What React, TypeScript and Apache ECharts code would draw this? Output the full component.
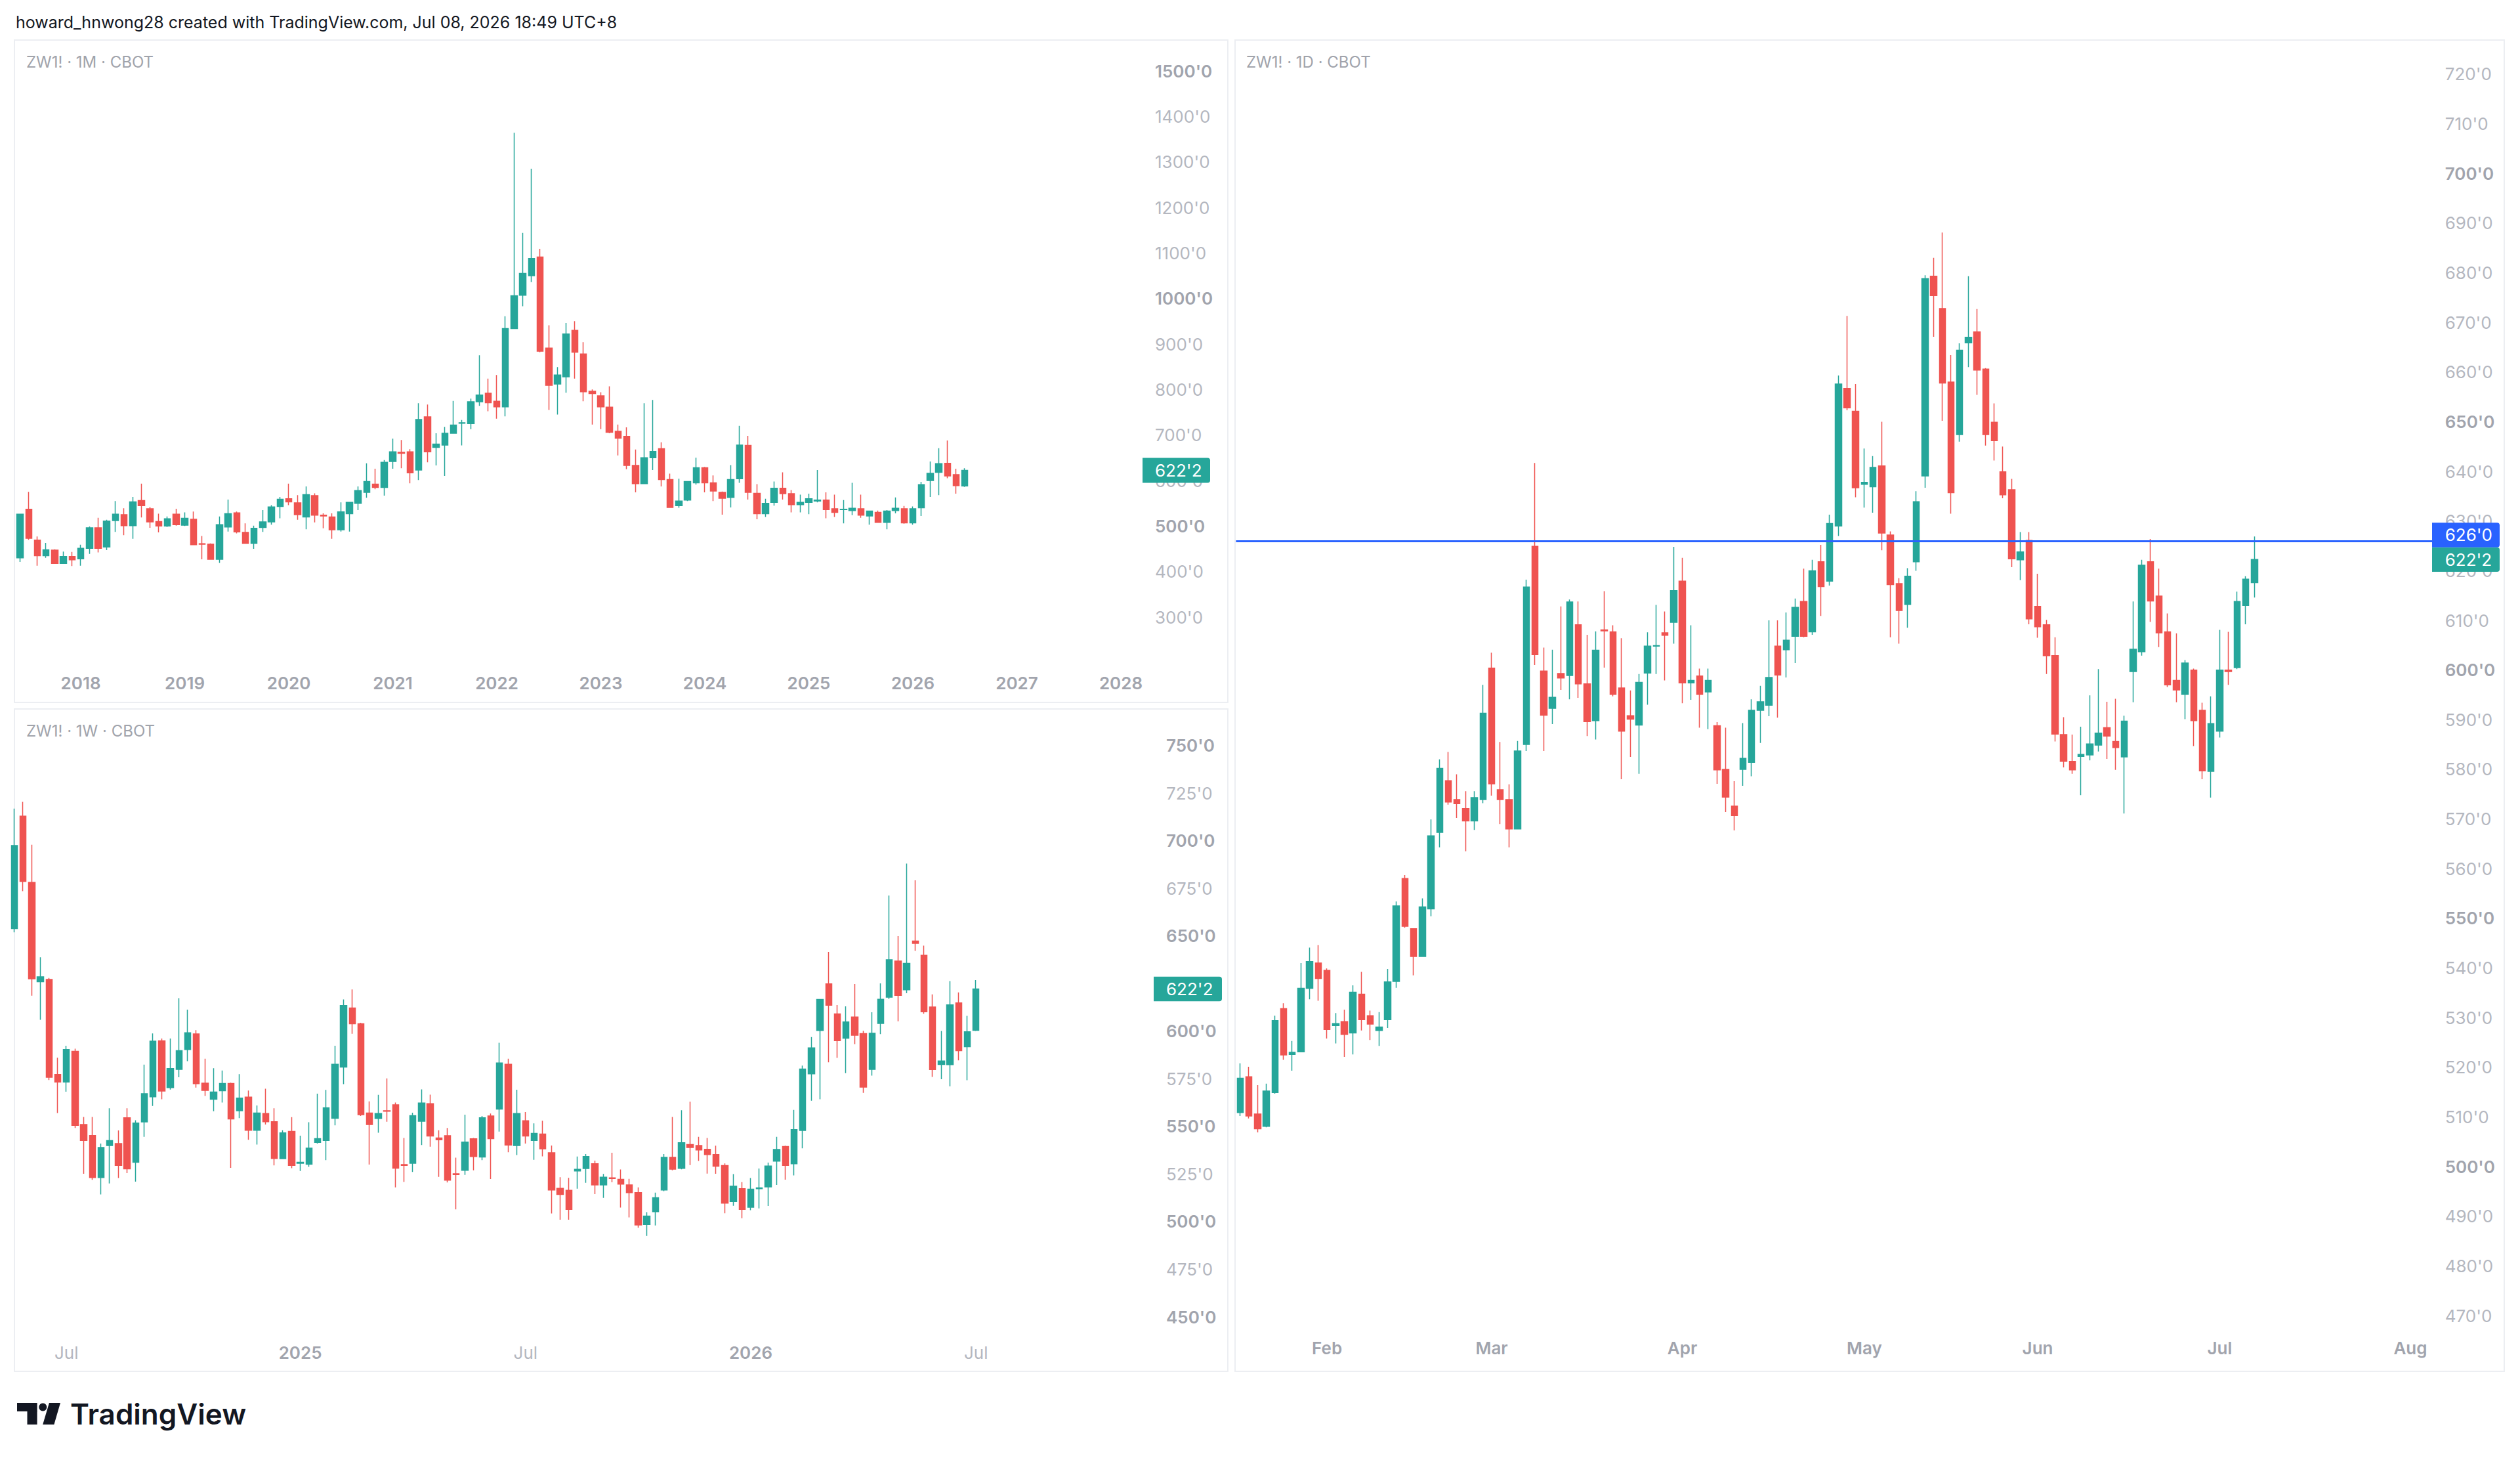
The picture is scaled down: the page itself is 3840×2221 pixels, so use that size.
import React, { useEffect, useRef } from 'react';
import * as echarts from 'echarts';

// ---------- texts ----------
const HEADER = 'howard_hnwong28 created with TradingView.com, Jul 08, 2026 18:49 UTC+8';
const TITLE_M = 'ZW1! · 1M · CBOT';
const TITLE_W = 'ZW1! · 1W · CBOT';
const TITLE_D = 'ZW1! · 1D · CBOT';
const BRAND = 'TradingView';
const MONTH_NAMES = ['Jan', 'Feb', 'Mar', 'Apr', 'May', 'Jun', 'Jul', 'Aug', 'Sep', 'Oct', 'Nov', 'Dec'];

const LAST_PRICE = 622.25;
const LEVEL_PRICE = 626;
// weekly tick label fully covered by the last-price tag in the reference
const weeklyHiddenTicks = [625];

// ---------- monthly (from 2017-06), [open, high, low, close] ----------
const monthlyStart = '2017-06';
const monthlyAhead = 20;
const monthlyOHLC: number[][] = [
  [430, 527, 421, 526], [537, 575, 470, 473], [469, 477, 413, 435], [435, 463, 430, 448],
  [447, 449, 417, 418], [418, 444, 417, 433], [433, 443, 412, 426],
  [428, 459, 413, 451], [451, 499, 439, 496], [496, 518, 442, 451], [454, 514, 447, 511],
  [512, 555, 487, 526], [525, 539, 480, 501], [501, 564, 472, 553], [556, 593, 519, 545],
  [538, 542, 496, 509], [510, 527, 486, 500], [500, 521, 498, 516], [526, 538, 501, 503],
  [502, 530, 500, 517], [515, 532, 458, 459], [461, 478, 427, 460], [460, 462, 426, 427],
  [427, 521, 419, 503], [498, 558, 488, 527], [529, 532, 484, 487], [486, 506, 461, 462],
  [462, 501, 450, 495], [497, 535, 487, 509], [509, 546, 503, 542], [543, 564, 517, 559],
  [560, 593, 546, 553], [551, 568, 514, 525], [520, 587, 493, 569], [567, 572, 508, 524],
  [524, 528, 495, 522], [520, 528, 472, 492], [492, 552, 488, 531], [527, 553, 488, 552],
  [550, 587, 535, 578], [574, 638, 562, 598], [592, 626, 581, 585], [585, 645, 567, 640],
  [642, 692, 626, 663], [662, 689, 627, 660], [663, 669, 594, 617], [623, 770, 601, 734],
  [740, 767, 640, 663], [673, 704, 633, 680], [678, 718, 610, 704], [704, 775, 704, 722],
  [726, 733, 677, 727], [725, 780, 713, 773], [773, 875, 764, 788], [792, 824, 752, 771],
  [774, 832, 736, 762], [762, 961, 741, 934], [934, 1364, 933, 1006], [1007, 1144, 983, 1055],
  [1050, 1285, 1036, 1088], [1091, 1109, 882, 884], [891, 941, 755, 809], [812, 849, 745, 832],
  [828, 946, 793, 922], [930, 950, 824, 882], [878, 904, 774, 795], [796, 800, 723, 791],
  [786, 794, 713, 762], [761, 807, 704, 706], [708, 723, 655, 693], [697, 717, 625, 633],
  [633, 668, 574, 593], [593, 770, 593, 650], [650, 777, 623, 664], [670, 684, 587, 602],
  [602, 615, 540, 541], [545, 604, 540, 555], [557, 598, 555, 598], [595, 650, 591, 628],
  [628, 630, 574, 595], [595, 611, 555, 577], [574, 576, 525, 561], [563, 634, 541, 602],
  [604, 720, 595, 678], [677, 698, 558, 574], [572, 592, 515, 527], [527, 560, 520, 550],
  [552, 598, 545, 583], [583, 618, 558, 571], [571, 579, 530, 547], [547, 569, 530, 552],
  [552, 571, 526, 560], [555, 623, 552, 557], [557, 574, 517, 536], [538, 569, 520, 530],
  [536, 557, 506, 537], [534, 595, 524, 539], [538, 569, 518, 524], [522, 533, 503, 533],
  [530, 534, 508, 508], [508, 535, 493, 533], [534, 563, 528, 539], [538, 544, 505, 507],
  [507, 543, 503, 538], [540, 597, 522, 591], [600, 642, 564, 616], [618, 671, 568, 637],
  [638, 688, 605, 610], [613, 626, 571, 589], [588, 627, 586, 622.25],
];

// ---------- weekly (from 2024-05-20), [open, high, low, close] ----------
const weeklyStart = '2024-05-20';
const weeklyAhead = 20;
const weeklyOHLC: number[][] = [
  [654, 717, 652, 697.6], [713, 720.5, 673.6, 678.7], [678.2, 698, 618.7, 627.6], [626, 638.9, 606, 628.6],
  [627.2, 628, 574.4, 575.9], [577.3, 586.1, 557.1, 573.4], [573.4, 592.4, 568.3, 590.4], [589.5, 590.9, 549.2, 550.6],
  [551, 555, 525.2, 542.7], [545.3, 555, 522, 523.2], [523.2, 541, 514.3, 539], [540, 559.6, 520.1, 542.6],
  [541, 547.9, 522.9, 529.6], [554.6, 559.6, 525.5, 527.8], [531.2, 553.3, 521, 551.8], [552.4, 582.5, 544.6, 567.2],
  [565.6, 598.9, 560.8, 594.8], [595, 596.2, 564.3, 568.6], [570.4, 596.2, 569.4, 580.4], [580, 617.4, 575.9, 589.8],
  [590.4, 611.4, 584.3, 599.2], [598.6, 600.6, 570.4, 572.5], [572.8, 585.6, 566, 569], [564.3, 580.6, 558, 568.1],
  [568.8, 579.4, 562.6, 572.6], [572.6, 573, 528.3, 554], [558.3, 577.5, 554.4, 564.9], [565.4, 568.9, 543, 548],
  [548, 561, 540.5, 557.1], [556.8, 569.8, 551, 552.5], [552.5, 559.6, 529.6, 533.2], [533.1, 548, 533, 546.6],
  [547.4, 554.9, 528.1, 529.6], [530.7, 545.2, 526.6, 531.2], [530.2, 552.2, 528.8, 538.6], [541.6, 567.2, 541, 543.6],
  [542.7, 569.2, 532.3, 559.8], [554.3, 592.4, 550.6, 582.7], [581.2, 616.7, 572.2, 613.5], [612.2, 622, 598.7, 604],
  [604, 604.5, 555.5, 556.2], [557.1, 563.2, 530, 551], [554.2, 566.6, 546.7, 556.8], [558.3, 575.3, 552.5, 558],
  [561.4, 562.6, 518, 528.1], [530, 544, 520.9, 529.6], [530.7, 557.2, 526.1, 555.7], [552.8, 569.5, 540.3, 562.3],
  [562, 566.7, 539.4, 545], [544, 548, 523.5, 543], [545.2, 549.2, 520.6, 521.8], [525.2, 533.6, 506.5, 524.7],
  [527, 556.2, 524.6, 541.8], [543.5, 544, 527, 534.2], [534, 555.5, 532.3, 554.6], [555.5, 556.8, 522.4, 543.6],
  [559.1, 594, 547.3, 583.4], [582.7, 585.6, 536.5, 540.3], [540, 569.3, 535, 556.8], [553, 557.6, 541, 545],
  [542.7, 551.6, 532.5, 546.4], [546, 553, 534.3, 538.3], [536.2, 540, 504.3, 516.6], [517.5, 523.4, 501, 514.3],
  [516.5, 523, 501, 506.5], [526.6, 534.2, 517.3, 527.5], [527.9, 535.5, 520.4, 534.2], [530.4, 532.1, 514.5, 519.3],
  [519.3, 525.1, 512.5, 523.4], [523, 536.2, 520.7, 522.7], [522.2, 527.4, 507.4, 519.7], [519.3, 522.5, 502.2, 515.3],
  [515.3, 518, 496.8, 498.3], [498.5, 505, 492.5, 502.9], [505.3, 515.3, 498, 512.6], [516.6, 535.5, 516, 533.8],
  [533.8, 555, 527, 527.6], [528, 558.5, 527.5, 541.5], [540.5, 563, 529.7, 539], [540, 544.6, 531.9, 537.7],
  [538, 544, 525.3, 535.3], [535.3, 539.9, 525.2, 529.1], [529.5, 530.6, 504.4, 509.7], [510.6, 525, 508.4, 518.6],
  [517.3, 520.8, 501.8, 506.5], [507.6, 522.9, 506, 517.1], [517.3, 527.9, 507, 517.8], [518.3, 531, 508.3, 529.2],
  [531.8, 544.6, 519.3, 537.9], [539.5, 539.9, 522.1, 529.6], [530.4, 558.7, 524.3, 548.4], [547.9, 582, 538.5, 580.2],
  [577.7, 597, 563.5, 591.3], [600.4, 603.5, 564.3, 616.7], [624.9, 641.7, 583.7, 613.7], [609.1, 613.8, 586, 595.1],
  [596.4, 613.1, 578, 604.9], [607.5, 624.8, 593.3, 597.9], [598.8, 600.3, 567.7, 570.7], [580, 610, 576.7, 599],
  [604.1, 625.2, 598.5, 616.8], [617.9, 671.3, 617, 637.6], [636.9, 650, 605.3, 618.9], [621.8, 688.1, 620, 635.7],
  [647.4, 679.3, 642.2, 646.2], [639.9, 645, 609.2, 610.3], [612.8, 619.4, 576, 579.9], [582.6, 600.2, 574.8, 584.4],
  [582.5, 626.4, 571.1, 613.9], [614.9, 620.4, 584.7, 589.8], [591.9, 608.1, 574.3, 599.7], [600.5, 626.9, 600.2, 622.25],
];

// ---------- daily (trading days from 2026-01-16), [open, high, low, close] ----------
const dailyStart = '2026-01-16';
const dailyAhead = 20;
const dailyHolidays = ['2026-01-19', '2026-02-16', '2026-04-03', '2026-05-25', '2026-06-19', '2026-07-03'];
const dailyOHLC: number[][] = [
  // Jan
  [510.9, 520.8, 510.2, 517.8], [518.1, 520.1, 509.7, 510.2], [510.6, 516.4, 506.9, 507.6], [508.1, 516.7, 507.9, 515.2],
  [514.9, 530.4, 514.7, 529.4], [531.8, 532.9, 521.5, 522.5], [522.6, 525.3, 519.3, 523.0], [523.1, 541.0, 523.1, 535.9],
  [535.9, 544.1, 533.7, 541.3], [541.0, 544.6, 533.4, 537.9],
  // Feb
  [539.5, 539.9, 525.8, 527.6], [528.4, 530.9, 524.8, 528.8], [529.2, 531.6, 522.1, 526.6], [526.9, 536.5, 522.6, 535.1],
  [534.7, 539.2, 527.4, 529.6], [530.4, 531.4, 525.5, 528.7], [527.4, 531.1, 524.3, 528.1], [529.6, 539.8, 527.9, 537.2],
  [537.3, 553.4, 536.0, 552.5], [558.0, 558.7, 548.1, 548.4], [547.9, 547.9, 538.5, 542.3], [542.3, 554.0, 542.3, 552.3],
  [551.9, 569.9, 550.4, 566.6], [567.3, 582.0, 564.3, 580.2], [577.7, 583.5, 572.9, 573.4], [573.9, 579.0, 570.2, 573.1],
  [572.1, 575.6, 563.5, 569.6], [569.6, 575.6, 567.8, 574.3], [573.9, 597.0, 573.2, 591.3],
  // Mar
  [600.4, 603.5, 574.7, 577.1], [575.9, 585.5, 569.0, 573.9], [573.9, 577.0, 564.3, 568.0], [568.0, 585.7, 568.0, 583.7],
  [585.0, 618.2, 583.7, 616.7], [624.9, 641.7, 601.0, 603.1], [599.8, 604.5, 583.7, 590.9], [592.3, 604.1, 589.1, 594.5],
  [599.3, 612.8, 596.0, 598.4], [598.9, 614.2, 594.1, 613.7], [609.1, 613.8, 594.4, 597.2], [597.2, 607.1, 586.7, 589.6],
  [589.8, 607.8, 586.0, 604.0], [608.1, 615.9, 600.5, 607.9], [607.7, 609.0, 594.7, 595.1], [596.4, 606.4, 578.0, 587.7],
  [590.8, 595.9, 582.5, 590.1], [588.9, 599.2, 579.1, 597.5], [599.4, 607.6, 593.0, 604.8], [604.8, 613.1, 599.2, 604.9],
  [607.5, 611.8, 597.9, 607.0], [609.6, 624.8, 605.3, 616.0],
  // Apr
  [617.9, 622.6, 593.3, 597.4], [597.4, 609.0, 594.0, 597.9], [598.8, 600.3, 588.4, 595.1], [595.6, 600.3, 588.1, 597.9],
  [588.8, 589.5, 577.1, 579.9], [580.0, 588.4, 571.4, 574.4], [572.6, 577.6, 567.7, 570.7], [580.0, 589.3, 576.7, 582.2],
  [581.4, 594.1, 578.6, 591.9], [591.9, 596.8, 585.3, 593.6], [592.9, 610.0, 590.7, 598.5], [604.8, 610.0, 590.4, 599.0],
  [604.1, 611.6, 598.5, 606.0], [606.8, 614.4, 601.4, 612.6], [613.8, 620.4, 606.6, 606.8], [607.7, 622.2, 607.1, 620.0],
  [621.8, 625.2, 610.9, 616.8], [617.9, 631.3, 617.0, 629.5], [629.0, 659.3, 627.0, 657.6], [656.7, 671.3, 652.3, 652.8],
  [652.1, 657.6, 634.8, 636.7],
  // May
  [637.4, 644.6, 632.7, 637.8], [636.9, 643.1, 631.7, 640.8], [641.1, 650.0, 624.1, 627.6], [627.2, 627.9, 606.6, 617.2],
  [617.4, 618.5, 605.3, 612.0], [613.2, 620.5, 608.5, 618.9], [621.8, 636.0, 620.0, 633.9], [639.1, 679.5, 636.7, 678.8],
  [679.3, 683.0, 667.1, 675.4], [672.8, 688.1, 650.2, 657.8], [658.0, 663.4, 631.5, 635.7], [647.4, 665.8, 646.0, 664.4],
  [665.9, 679.3, 661.0, 667.0], [668.1, 672.7, 655.4, 660.4], [660.6, 660.8, 645.2, 647.4], [649.9, 653.7, 642.2, 646.2],
  [639.9, 645.0, 634.6, 635.3], [636.3, 638.5, 620.7, 622.4], [622.2, 627.8, 618.1, 623.8], [626.1, 627.8, 609.2, 610.3],
  // Jun
  [612.8, 619.4, 606.5, 608.7], [609.1, 610.1, 599.2, 602.9], [602.9, 606.6, 585.6, 587.1], [587.0, 590.5, 580.4, 581.6],
  [581.6, 587.0, 579.1, 579.9], [582.6, 588.6, 574.8, 583.0], [582.9, 594.9, 581.8, 585.1], [584.9, 600.2, 583.6, 587.3],
  [588.4, 593.6, 582.1, 586.7], [585.6, 594.2, 579.9, 584.4], [582.5, 590.8, 571.1, 589.7], [599.7, 613.8, 593.5, 604.2],
  [603.7, 622.2, 602.9, 621.1], [621.8, 626.4, 609.7, 613.9], [614.9, 620.4, 604.6, 607.5], [607.7, 611.4, 596.6, 597.0],
  [597.9, 607.4, 593.5, 596.0], [595.1, 602.0, 590.1, 601.4], [600.0, 600.3, 584.7, 589.8], [591.9, 593.4, 578.0, 579.7],
  [579.6, 594.7, 574.3, 589.2],
  // Jul
  [587.7, 608.1, 586.4, 600.0], [600.0, 607.7, 597.0, 599.7], [600.5, 615.8, 600.2, 613.8], [613.0, 618.9, 609.2, 618.3],
  [617.6, 626.9, 614.6, 622.25],
];

// ---------- styling ----------
const UP = '#26a69a';
const DOWN = '#ef5350';
const BLUE = '#2962ff';
const FONT = 'Inter';
const LABEL_BOLD = '#a1a4ad';
const LABEL_NORMAL = '#b4b7bf';

// ---------- helpers ----------
function fmtPrice(v: number): string {
  const whole = Math.floor(v + 1e-9);
  const eighths = Math.round((v - whole) * 8);
  return `${whole}'${eighths}`;
}

function iso(d: Date): string {
  return d.toISOString().slice(0, 10);
}

function monthCategories(start: string, count: number): string[] {
  const [y, m] = start.split('-').map(Number);
  const out: string[] = [];
  for (let i = 0; i < count; i++) {
    const t = m - 1 + i;
    const yy = y + Math.floor(t / 12);
    const mm = (t % 12) + 1;
    out.push(`${yy}-${String(mm).padStart(2, '0')}`);
  }
  return out;
}

function weekCategories(start: string, count: number): string[] {
  const d0 = new Date(start + 'T00:00:00Z').getTime();
  const out: string[] = [];
  for (let i = 0; i < count; i++) out.push(iso(new Date(d0 + i * 7 * 86400000)));
  return out;
}

function tradingDays(start: string, count: number, holidays: string[]): string[] {
  const out: string[] = [];
  let t = new Date(start + 'T00:00:00Z').getTime();
  while (out.length < count) {
    const d = new Date(t);
    const wd = d.getUTCDay();
    const s = iso(d);
    if (wd !== 0 && wd !== 6 && holidays.indexOf(s) < 0) out.push(s);
    t += 86400000;
  }
  return out;
}

const richStyles = {
  b: { fontFamily: FONT, fontSize: 26, fontWeight: 600, color: LABEL_BOLD },
  n: { fontFamily: FONT, fontSize: 26, fontWeight: 400, color: LABEL_NORMAL },
};

function priceAxis(
  gridIndex: number,
  min: number,
  max: number,
  interval: number,
  top: number,
  boldEvery: number,
  margin: number,
  hidden: number[] = [],
) {
  return {
    type: 'value',
    gridIndex,
    position: 'right',
    min,
    max,
    interval,
    scale: true,
    axisLine: { show: false },
    axisTick: { show: false },
    splitLine: { show: false },
    axisLabel: {
      margin,
      align: 'left',
      showMinLabel: true,
      showMaxLabel: false,
      formatter: (v: number) => {
        if (v > top + 1e-6 || v < min - 1e-6) return '';
        if (hidden.some((h) => Math.abs(h - v) < 1e-6)) return '';
        const txt = fmtPrice(v);
        return Math.abs(v % boldEvery) < 1e-6 ? `{b|${txt}}` : `{n|${txt}}`;
      },
      rich: richStyles,
    },
  };
}

function candleSeries(idx: number, data: number[][], extra: any = {}) {
  return {
    type: 'candlestick',
    xAxisIndex: idx,
    yAxisIndex: idx,
    data: data.map(([o, h, l, c]) => [o, c, l, h]),
    barWidth: 10,
    clip: true,
    itemStyle: { color: UP, color0: DOWN, borderColor: UP, borderColor0: DOWN, borderWidth: 1.5 },
    ...extra,
  };
}

function buildOption() {
  const mCats = monthCategories(monthlyStart, monthlyOHLC.length + monthlyAhead);
  const wCats = weekCategories(weeklyStart, weeklyOHLC.length + weeklyAhead);
  const dCats = tradingDays(dailyStart, dailyOHLC.length + dailyAhead, dailyHolidays);
  const mon = (s: string) => s.slice(5, 7);

  const baseX = {
    type: 'category',
    axisLine: { show: false },
    axisTick: { show: false },
    splitLine: { show: false },
  };

  return {
    animation: false,
    backgroundColor: '#ffffff',
    grid: [
      { left: 24, top: 61, width: 1717, height: 879, outerBoundsMode: 'none' },
      { left: 22, top: 1080, width: 1729.2, height: 926, outerBoundsMode: 'none' },
      { left: 1883.4, top: 61, width: 1822.6, height: 1943, outerBoundsMode: 'none' },
    ],
    xAxis: [
      {
        ...baseX,
        gridIndex: 0,
        data: mCats,
        boundaryGap: true,
        axisLabel: {
          margin: 87,
          interval: (_i: number, v: string) => mon(v) === '01',
          formatter: (v: string) => `{b|${v.slice(0, 4)}}`,
          rich: richStyles,
        },
      },
      {
        ...baseX,
        gridIndex: 1,
        data: wCats,
        boundaryGap: false,
        axisLabel: {
          margin: 41,
          interval: (i: number, v: string) =>
            i > 0 && mon(v) !== mon(wCats[i - 1]) && (mon(v) === '01' || mon(v) === '07'),
          formatter: (v: string) => (mon(v) === '01' ? `{b|${v.slice(0, 4)}}` : `{n|${MONTH_NAMES[Number(mon(v)) - 1]}}`),
          rich: richStyles,
        },
      },
      {
        ...baseX,
        gridIndex: 2,
        data: dCats,
        boundaryGap: true,
        axisLabel: {
          margin: 36,
          interval: (i: number, v: string) => i > 0 && mon(v) !== mon(dCats[i - 1]),
          formatter: (v: string) => `{b|${MONTH_NAMES[Number(mon(v)) - 1]}}`,
          rich: richStyles,
        },
      },
    ],
    yAxis: [
      priceAxis(0, 300, 1567.79, 100, 1500, 500, 19),
      priceAxis(1, 450, 769.31, 25, 750, 50, 25.8, weeklyHiddenTicks),
      priceAxis(2, 470, 726.87, 10, 720, 50, 19.7),
    ],
    series: [
      candleSeries(0, monthlyOHLC),
      candleSeries(1, weeklyOHLC),
      candleSeries(2, dailyOHLC, {
        markLine: {
          silent: true,
          symbol: ['none', 'none'],
          label: { show: false },
          lineStyle: { color: BLUE, width: 3, type: 'solid' },
          data: [{ yAxis: LEVEL_PRICE }],
        },
      }),
    ],
  };
}

function textEl(x: number, y: number, text: string, size: number, color: string, weight: number | string = 400, z = 5) {
  return {
    type: 'text',
    x,
    y,
    z,
    silent: true,
    style: {
      text,
      fill: color,
      fontFamily: FONT,
      fontSize: size,
      fontWeight: weight,
      align: 'left',
      verticalAlign: 'middle',
      textAlign: 'left',
      textVerticalAlign: 'middle',
    },
  };
}

function priceTag(x: number, yc: number, w: number, h: number, color: string, text: string, textX: number) {
  return [
    {
      type: 'rect',
      z: 100,
      silent: true,
      shape: { x, y: yc - h / 2, width: w, height: h, r: [0, 4, 4, 0] },
      style: { fill: color },
    },
    textEl(textX, yc, text, 26, '#ffffff', 400, 101),
  ];
}

function panel(x: number, y: number, w: number, h: number) {
  return {
    type: 'rect',
    z: 0,
    silent: true,
    shape: { x, y, width: w, height: h },
    style: { fill: 'none', stroke: '#eceef2', lineWidth: 2 },
  };
}

export default function App() {
  const ref = useRef<HTMLDivElement>(null);

  useEffect(() => {
    document.body.style.margin = '0';
    document.body.style.overflow = 'hidden';
    const chart = echarts.init(ref.current as HTMLDivElement, null, { renderer: 'svg' });
    chart.setOption(buildOption() as any);

    const yM = chart.convertToPixel({ yAxisIndex: 0 } as any, LAST_PRICE) as unknown as number;
    const yW = chart.convertToPixel({ yAxisIndex: 1 } as any, LAST_PRICE) as unknown as number;
    const yD = chart.convertToPixel({ yAxisIndex: 2 } as any, LAST_PRICE) as unknown as number;
    const tagH = 37.4;
    const yLevel = yD - tagH;

    const last = fmtPrice(LAST_PRICE);
    const level = fmtPrice(LEVEL_PRICE);

    const elements: any[] = [
      panel(22, 61, 1849, 1009),
      panel(22, 1080, 1849, 1009),
      panel(1882, 61, 1934, 2028),
      textEl(24, 34, HEADER, 25, '#131722', 400),
      textEl(40, 94, TITLE_M, 24, '#a0a3ab'),
      textEl(40, 1113, TITLE_W, 24, '#a0a3ab'),
      textEl(1899, 94, TITLE_D, 24, '#a0a3ab'),
      ...priceTag(1741, yM, 103, 38, UP, last, 1760),
      ...priceTag(1758, yW, 104, tagH, UP, last, 1777),
      ...priceTag(3706, yD, 103, tagH, UP, last, 3725.7),
      ...priceTag(3706, yLevel, 103, tagH, BLUE, level, 3725.7),
      // TradingView logo mark
      { type: 'rect', z: 5, silent: true, shape: { x: 26, y: 2137, width: 30.6, height: 13 }, style: { fill: '#131722' } },
      { type: 'rect', z: 5, silent: true, shape: { x: 41.5, y: 2149, width: 15.1, height: 21 }, style: { fill: '#131722' } },
      { type: 'circle', z: 5, silent: true, shape: { cx: 65.3, cy: 2143.5, r: 6 }, style: { fill: '#131722' } },
      {
        type: 'polygon',
        z: 5,
        silent: true,
        shape: { points: [[75, 2137], [92, 2137], [82.4, 2170], [65.2, 2170]] },
        style: { fill: '#131722' },
      },
      textEl(107, 2154, BRAND, 44, '#131722', 600),
    ];

    chart.setOption({ graphic: { elements } } as any);

    return () => {
      chart.dispose();
    };
  }, []);

  return (
    <div
      ref={ref}
      style={{ position: 'absolute', left: 0, top: 0, width: 3840, height: 2221, background: '#ffffff' }}
    />
  );
}
